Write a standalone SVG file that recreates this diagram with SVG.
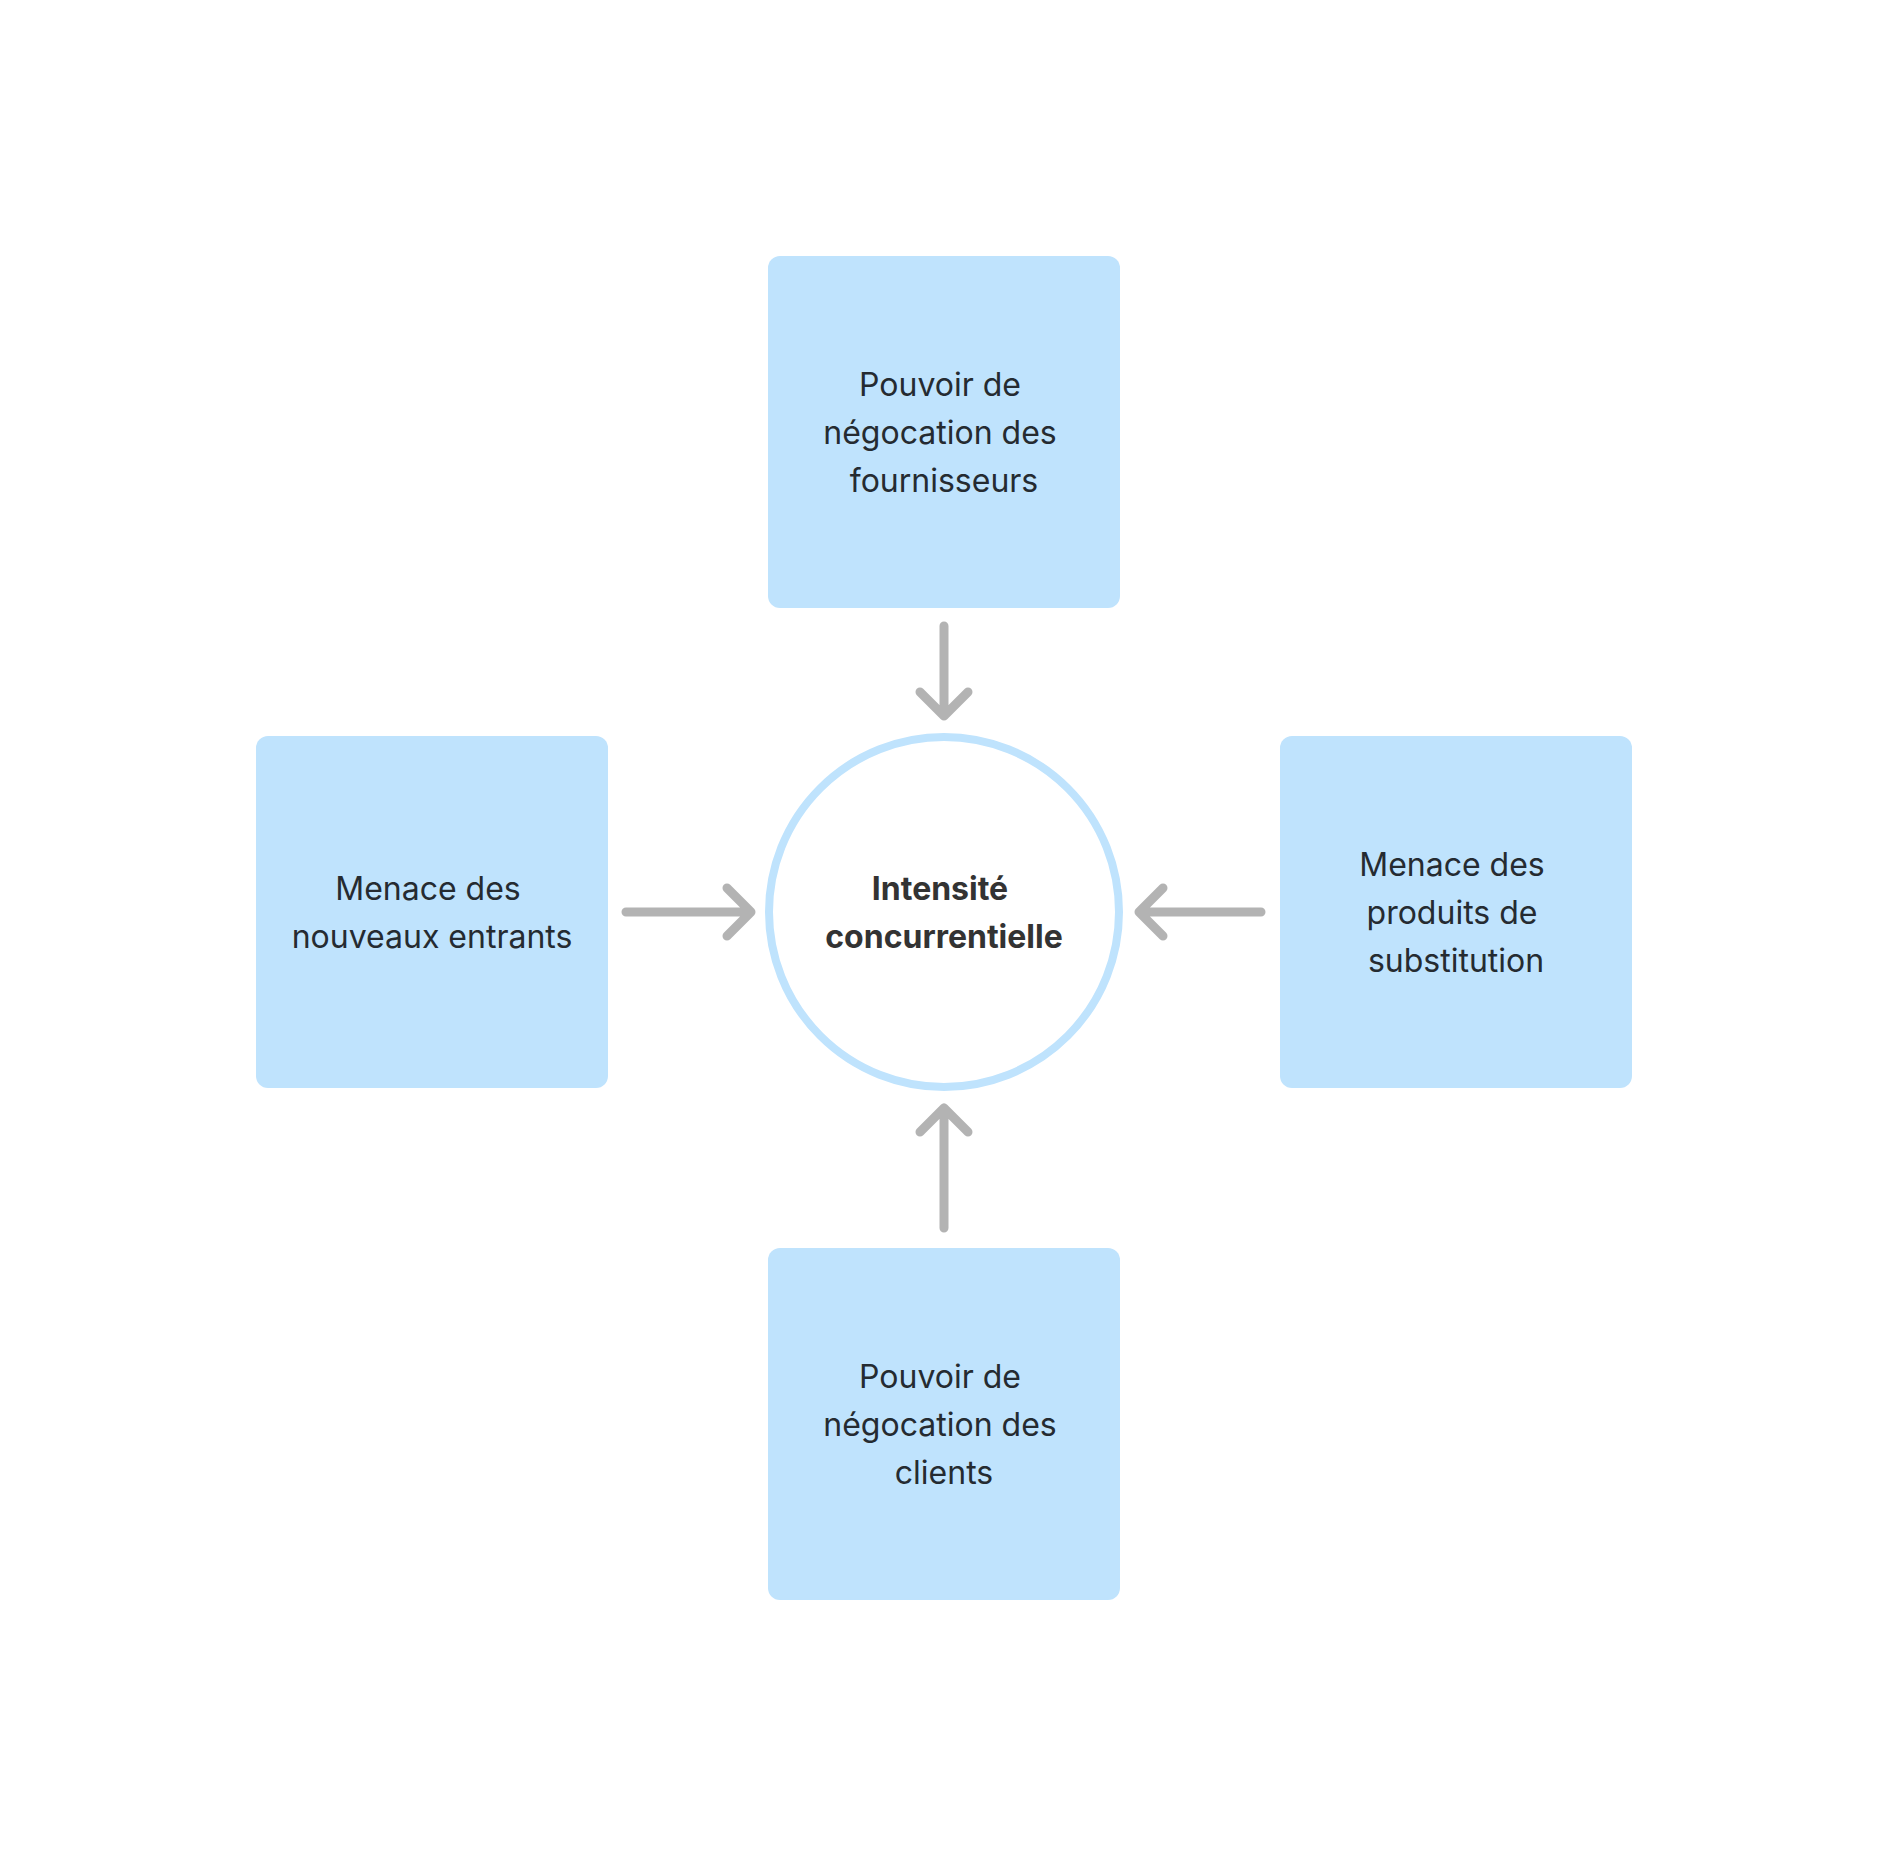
<svg xmlns="http://www.w3.org/2000/svg" width="1888" height="1856" viewBox="0 0 1888 1856">
<style>
.box{fill:#bfe3fd;}
.t{font-family:Inter,"Noto Sans",sans-serif;font-size:32px;fill:#252b31;text-anchor:middle;}
.b{font-weight:700;fill:#333333;}
.arr{fill:none;stroke:#b3b3b3;stroke-width:9;stroke-linecap:round;stroke-linejoin:round;}
</style>
<rect width="1888" height="1856" fill="#ffffff"/>
<g id="connectors">
<path class="arr" d="M944 626 V716 M920 692 L944 716 L968 692"/>
<path class="arr" d="M626 912 H751 M727 888 L751 912 L727 936"/>
<path class="arr" d="M1261 912 H1139 M1163 888 L1139 912 L1163 936"/>
<path class="arr" d="M944 1228 V1108 M920 1132 L944 1108 L968 1132"/>
</g>
<g id="node-center">
<circle cx="944" cy="912" r="175" fill="#ffffff" stroke="#bfe3fd" stroke-width="8"/>
<text class="t b" x="940" y="900">Intensité</text>
<text class="t b" x="944" y="948">concurrentielle</text>
</g>
<g id="node-fournisseurs">
<rect class="box" x="768" y="256" width="352" height="352" rx="12"/>
<text class="t" x="940" y="396">Pouvoir de</text>
<text class="t" x="940" y="444">négocation des</text>
<text class="t" x="944" y="492">fournisseurs</text>
</g>
<g id="node-entrants">
<rect class="box" x="256" y="736" width="352" height="352" rx="12"/>
<text class="t" x="428" y="900">Menace des</text>
<text class="t" x="432" y="948">nouveaux entrants</text>
</g>
<g id="node-substitution">
<rect class="box" x="1280" y="736" width="352" height="352" rx="12"/>
<text class="t" x="1452" y="876">Menace des</text>
<text class="t" x="1452" y="924">produits de</text>
<text class="t" x="1456" y="972">substitution</text>
</g>
<g id="node-clients">
<rect class="box" x="768" y="1248" width="352" height="352" rx="12"/>
<text class="t" x="940" y="1388">Pouvoir de</text>
<text class="t" x="940" y="1436">négocation des</text>
<text class="t" x="944" y="1484">clients</text>
</g>
</svg>
